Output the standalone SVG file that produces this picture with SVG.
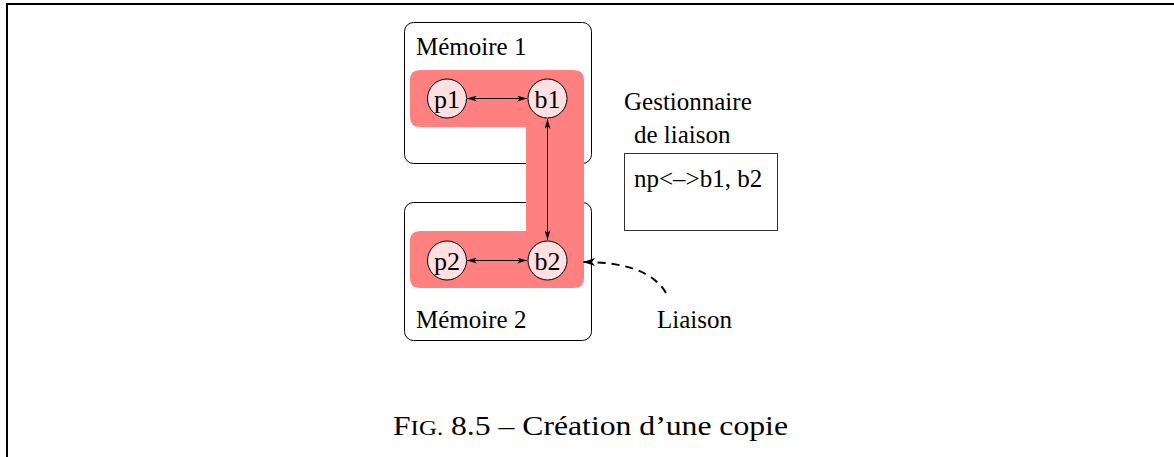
<svg xmlns="http://www.w3.org/2000/svg" width="1174" height="457" viewBox="0 0 1174 457">
<style>
.t{font-size:25px;fill:#000}
.mem{fill:none;stroke:#000;stroke-width:1}
.node circle{fill:#ffe0e0;stroke:#000;stroke-width:1}
.node text{font-size:26px;text-anchor:middle;fill:#000}
.link{stroke:#000;stroke-width:1;fill:none}
</style>
<defs>
<marker id="ah" viewBox="0 0 10 6" refX="10" refY="3" markerWidth="10" markerHeight="6" markerUnits="userSpaceOnUse" orient="auto-start-reverse">
<path d="M0,0 L10,3 L0,6 L3,3 Z" fill="#000"/>
</marker>
<marker id="ah2" viewBox="0 0 12 8" refX="12" refY="4" markerWidth="12" markerHeight="8" markerUnits="userSpaceOnUse" orient="auto">
<path d="M0,0 L12,4 L0,8 L3,4 Z" fill="#000"/>
</marker>
</defs>
<rect width="1174" height="457" fill="#fff"/>
<path d="M7,457 V4 H1174" fill="none" stroke="#000" stroke-width="2"/>
<g id="memoire1">
<rect class="mem" x="404.5" y="22.5" width="187" height="141" rx="9"/>
<text class="t" font-family="Liberation Serif, serif" x="416" y="55">Mémoire 1</text>
</g>
<g id="memoire2">
<rect class="mem" x="404.5" y="202.5" width="187" height="138" rx="9"/>
<text class="t" font-family="Liberation Serif, serif" x="416" y="328">Mémoire 2</text>
</g>
<g id="copie">
<path d="M420,70 H574 Q584,70 584,80 V278 Q584,288 574,288 H420 Q410,288 410,278 V241 Q410,231 420,231 H526 V127 H420 Q410,127 410,117 V80 Q410,70 420,70 Z" fill="#ff8080"/>
</g>
<g id="gestionnaire">
<text class="t" font-family="Liberation Serif, serif" x="624" y="110">Gestionnaire</text>
<text class="t" font-family="Liberation Serif, serif" x="634" y="143">de liaison</text>
<rect x="624.5" y="153.5" width="153" height="77" fill="none" stroke="#333" stroke-width="1"/>
<text class="t" font-family="Liberation Serif, serif" x="634" y="187">np&lt;–&gt;b1, b2</text>
</g>
<g id="liaison">
<text class="t" font-family="Liberation Serif, serif" x="657" y="328">Liaison</text>
</g>
<g id="connectors">
<line class="link" x1="467" y1="98.5" x2="527" y2="98.5" marker-start="url(#ah)" marker-end="url(#ah)"/>
<line class="link" x1="547.5" y1="119" x2="547.5" y2="240" marker-start="url(#ah)" marker-end="url(#ah)"/>
<line class="link" x1="467" y1="260.5" x2="527" y2="260.5" marker-start="url(#ah)" marker-end="url(#ah)"/>
<path d="M666,293 Q648,262 583,262" fill="none" stroke="#000" stroke-width="2" stroke-dasharray="8,6" marker-end="url(#ah2)"/>
</g>
<g id="p1" class="node"><circle cx="447" cy="98.5" r="19.5"/><text font-family="Liberation Serif, serif" x="447" y="107.5">p1</text></g>
<g id="b1" class="node"><circle cx="547.5" cy="98.5" r="19.5"/><text font-family="Liberation Serif, serif" x="547.5" y="107.5">b1</text></g>
<g id="p2" class="node"><circle cx="447" cy="260.5" r="19.5"/><text font-family="Liberation Serif, serif" x="447" y="269.5">p2</text></g>
<g id="b2" class="node"><circle cx="547.5" cy="260.5" r="19.5"/><text font-family="Liberation Serif, serif" x="547.5" y="269.5">b2</text></g>
<g id="caption">
<text x="393" y="435" font-family="Liberation Serif, serif" font-size="28" fill="#000" textLength="395" lengthAdjust="spacingAndGlyphs">F<tspan font-size="22">IG.</tspan> 8.5 – Création d’une copie</text>
</g>
</svg>
